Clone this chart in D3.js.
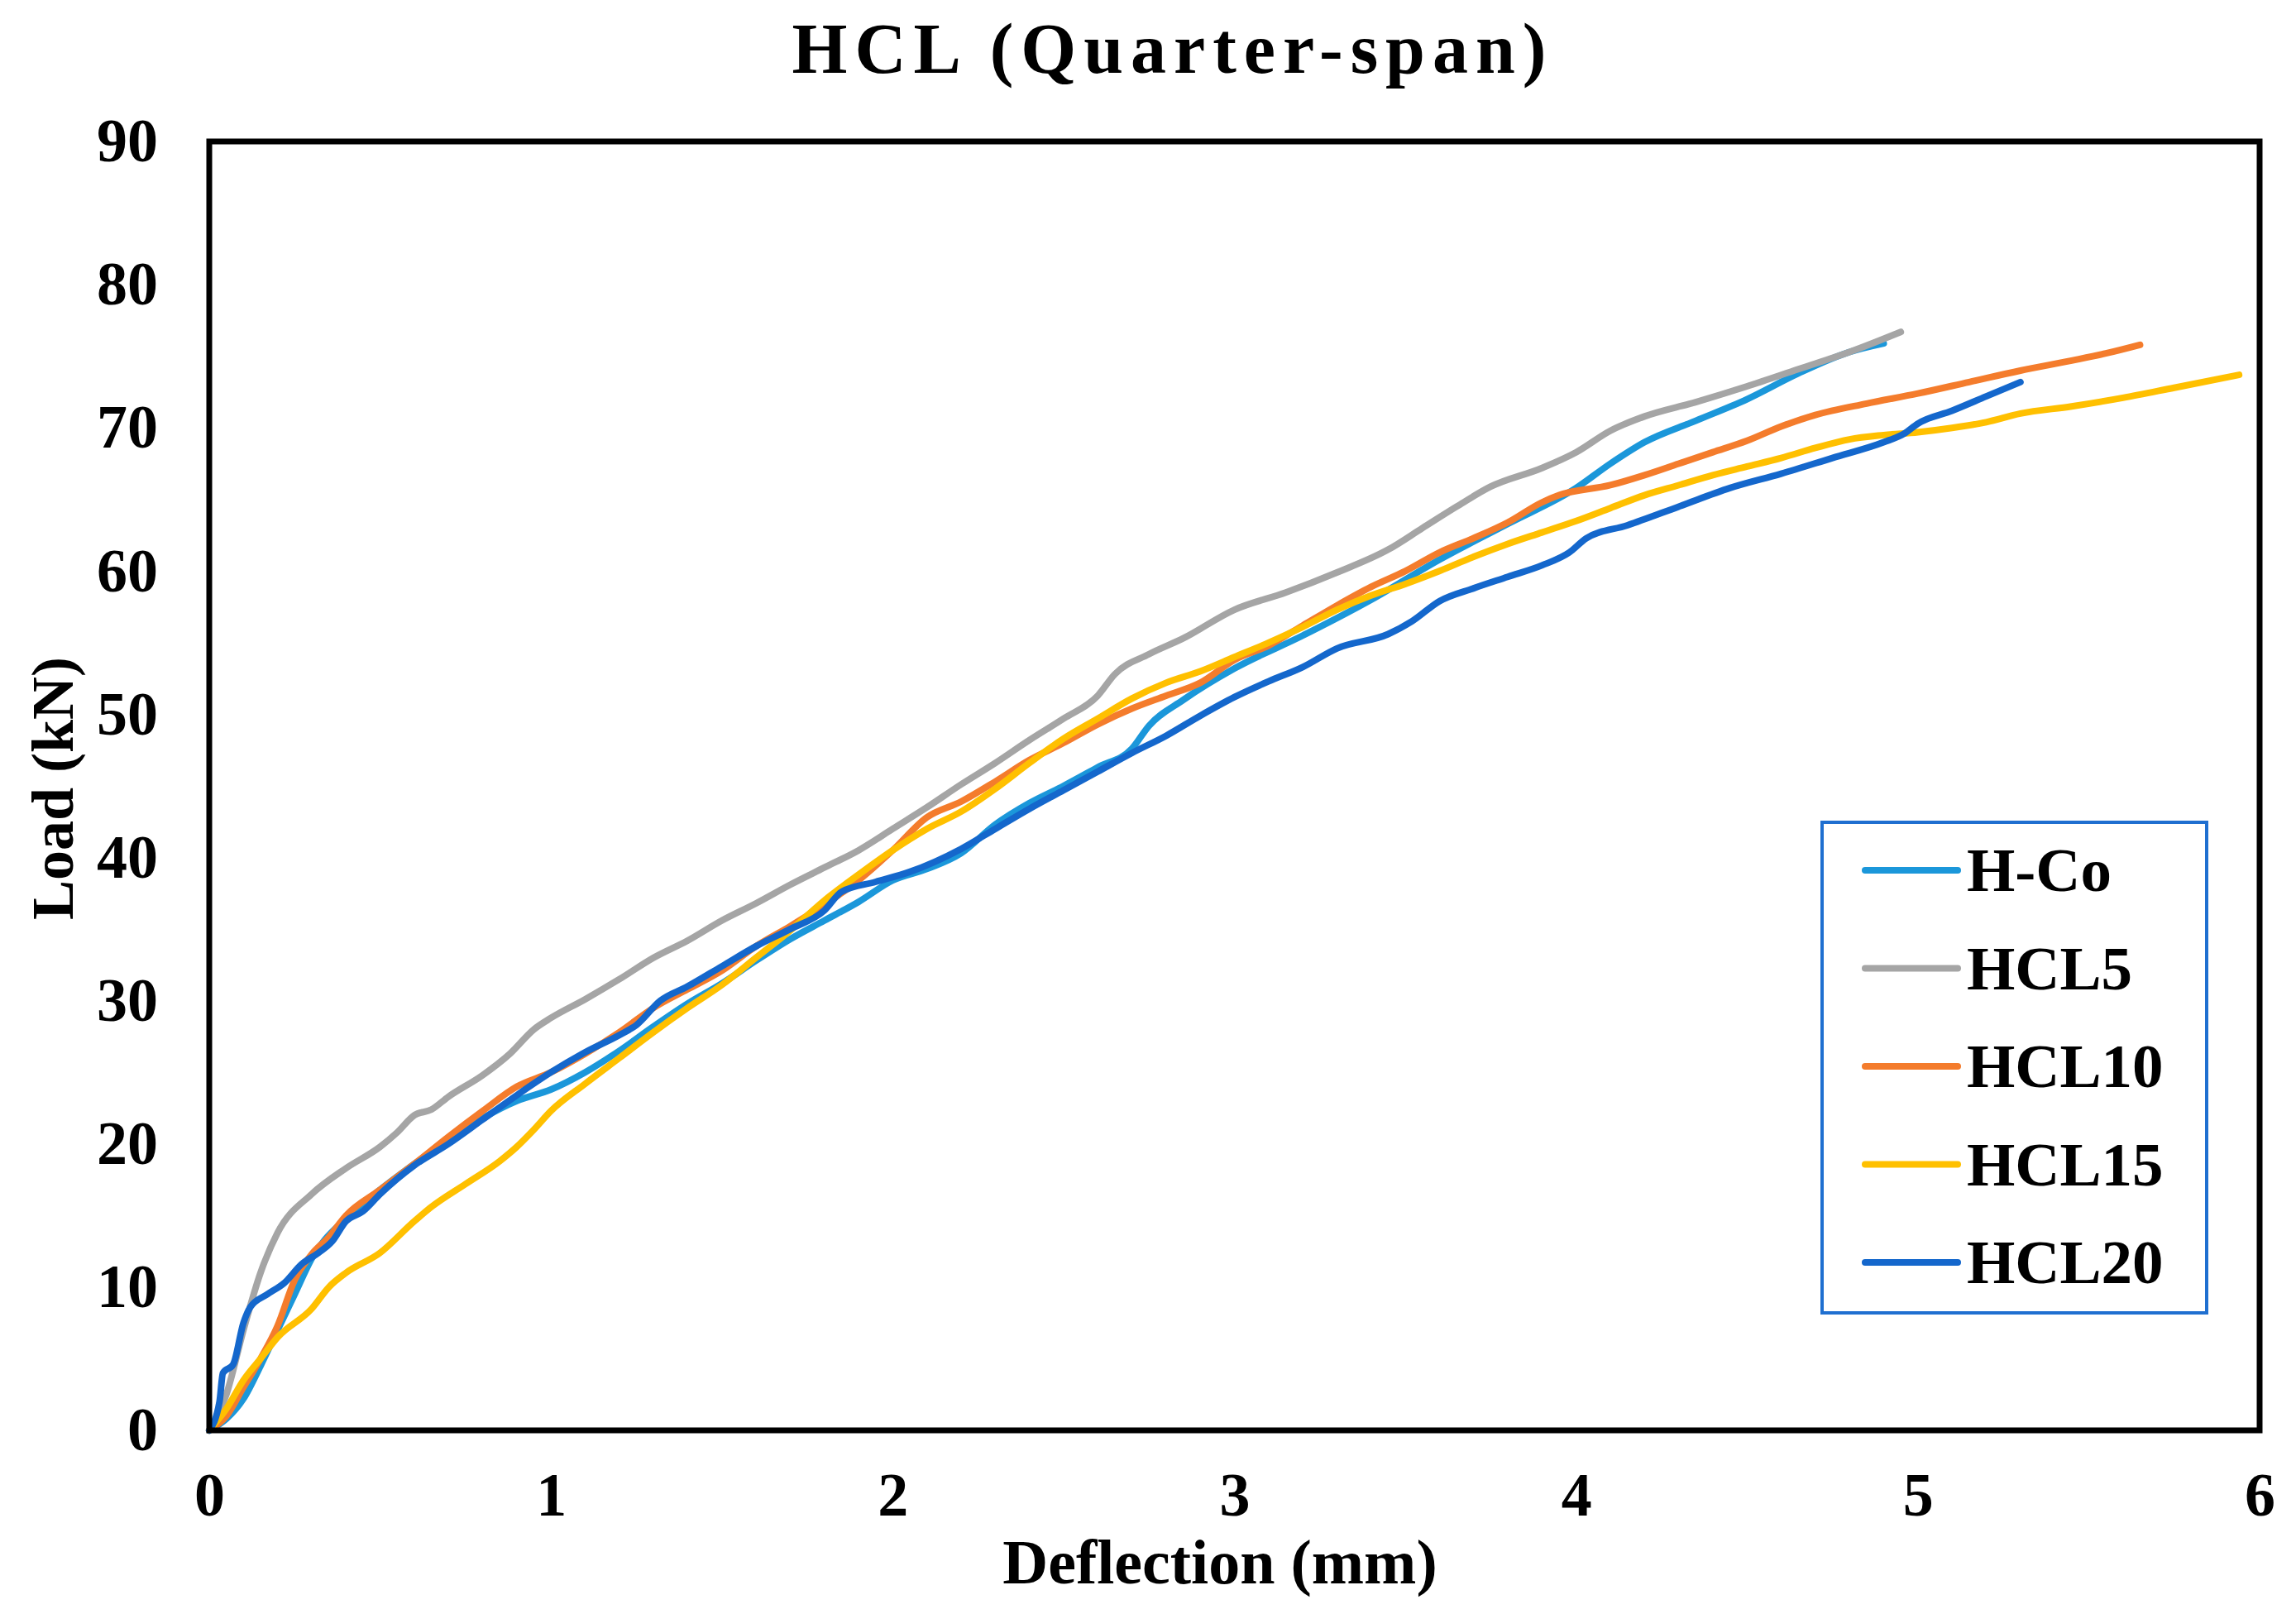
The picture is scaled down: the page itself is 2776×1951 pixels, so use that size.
<!DOCTYPE html>
<html>
<head>
<meta charset="utf-8">
<script src="https://cdn.jsdelivr.net/npm/d3@7"></script>
<style>
  body { margin: 0; background: #fff; }
  text { font-family: 'Liberation Serif', 'Times New Roman', serif; font-weight: bold; fill: #000; }
</style>
</head>
<body>
<div id="chart"></div>
<script>
const seriesNames = ['H-Co', 'HCL5', 'HCL10', 'HCL15', 'HCL20'];
const seriesColors = ['#1b97da', '#a5a5a5', '#f47c2c', '#ffc000', '#1467cc'];

const xTicks = [0, 1, 2, 3, 4, 5, 6];
const yTicks = [0, 10, 20, 30, 40, 50, 60, 70, 80, 90];

// [deflection mm, load kN]
const hCo = [
    [0, 0], [0.05, 0.8], [0.1, 2.2], [0.15, 4.5], [0.2, 7], [0.25, 9.5], [0.3, 12], [0.4, 14.8],
    [0.5, 16.8], [0.6, 18.6], [0.7, 20.3], [0.8, 21.8], [0.9, 23], [1.0, 23.8], [1.1, 25],
    [1.2, 26.5], [1.3, 28.2], [1.4, 29.8], [1.5, 31.2], [1.6, 32.8], [1.7, 34.3], [1.8, 35.6],
    [1.9, 36.9], [2.0, 38.4], [2.1, 39.2], [2.2, 40.3], [2.3, 42.3], [2.4, 43.8], [2.5, 45],
    [2.6, 46.3], [2.7, 47.6], [2.75, 49.2], [2.85, 51], [3.0, 53.2], [3.2, 55.5], [3.4, 58],
    [3.6, 60.8], [3.8, 63.3], [4.0, 65.8], [4.1, 67.5], [4.2, 69], [4.35, 70.5], [4.5, 72],
    [4.65, 73.8], [4.8, 75.3], [4.9, 75.9]
];
const hcl5 = [
    [0, 0], [0.05, 2.5], [0.1, 7], [0.15, 11], [0.2, 13.8], [0.3, 16.5], [0.4, 18.3], [0.5, 19.8],
    [0.55, 20.8], [0.6, 22], [0.65, 22.4], [0.7, 23.3], [0.8, 24.8], [0.88, 26.3], [0.95, 28],
    [1.0, 28.8], [1.1, 30.1], [1.2, 31.5], [1.3, 33], [1.4, 34.2], [1.5, 35.6], [1.6, 36.8],
    [1.7, 38.1], [1.8, 39.3], [1.9, 40.5], [2.0, 42], [2.1, 43.5], [2.2, 45.1], [2.3, 46.6],
    [2.4, 48.2], [2.5, 49.7], [2.6, 51.3], [2.65, 52.8], [2.75, 54.2], [2.85, 55.3], [3.0, 57.3],
    [3.15, 58.5], [3.3, 59.9], [3.45, 61.5], [3.55, 63], [3.65, 64.5], [3.75, 65.9], [3.9, 67.2],
    [4.0, 68.3], [4.1, 69.8], [4.2, 70.8], [4.35, 71.8], [4.5, 72.9], [4.65, 74.1], [4.8, 75.3],
    [4.95, 76.7]
];
const hcl10 = [
    [0, 0], [0.05, 1], [0.1, 3], [0.15, 5], [0.2, 7.3], [0.25, 10.5], [0.3, 12.3], [0.35, 13.5],
    [0.4, 15], [0.5, 16.8], [0.6, 18.6], [0.7, 20.5], [0.8, 22.3], [0.9, 24], [1.0, 25],
    [1.1, 26.3], [1.2, 27.8], [1.3, 29.5], [1.4, 30.8], [1.5, 32.1], [1.6, 33.8], [1.7, 35.2],
    [1.8, 36.7], [1.9, 38.4], [2.0, 40.5], [2.1, 42.8], [2.2, 43.9], [2.3, 45.3], [2.4, 46.8],
    [2.5, 48], [2.6, 49.3], [2.7, 50.4], [2.8, 51.3], [2.9, 52.2], [3.0, 53.8], [3.1, 54.8],
    [3.2, 56.2], [3.3, 57.6], [3.4, 58.9], [3.5, 60], [3.6, 61.3], [3.7, 62.3], [3.8, 63.4],
    [3.9, 64.8], [3.95, 65.3], [4.1, 66], [4.2, 66.7], [4.3, 67.5], [4.4, 68.3], [4.5, 69.1],
    [4.6, 70.1], [4.7, 70.9], [4.85, 71.7], [5.0, 72.4], [5.15, 73.2], [5.3, 74], [5.45, 74.7],
    [5.55, 75.2], [5.65, 75.8]
];
const hcl15 = [
    [0, 0], [0.05, 1.5], [0.1, 3.5], [0.15, 5], [0.2, 6.5], [0.3, 8.5], [0.35, 10], [0.4, 11],
    [0.5, 12.4], [0.6, 14.6], [0.65, 15.6], [0.75, 17.2], [0.85, 18.8], [0.9, 19.8], [0.95, 21],
    [1.0, 22.3], [1.1, 24.2], [1.2, 26], [1.3, 27.8], [1.4, 29.5], [1.5, 31.1], [1.6, 33],
    [1.7, 34.9], [1.8, 37], [1.9, 38.8], [2.0, 40.5], [2.1, 42], [2.2, 43.2], [2.3, 44.8],
    [2.4, 46.6], [2.5, 48.3], [2.6, 49.7], [2.7, 51.1], [2.8, 52.2], [2.9, 53], [3.0, 54],
    [3.1, 55], [3.2, 56.1], [3.3, 57.3], [3.4, 58.3], [3.5, 59.1], [3.6, 60], [3.7, 61],
    [3.8, 61.9], [3.9, 62.7], [4.0, 63.5], [4.1, 64.4], [4.2, 65.3], [4.3, 66], [4.4, 66.7],
    [4.5, 67.3], [4.6, 67.9], [4.7, 68.6], [4.8, 69.2], [4.9, 69.5], [5.0, 69.7], [5.1, 70],
    [5.2, 70.4], [5.3, 71], [5.45, 71.5], [5.6, 72.1], [5.75, 72.8], [5.94, 73.7]
];
const hcl20 = [
    [0, 0], [0.03, 2], [0.04, 4], [0.07, 4.6], [0.1, 7.5], [0.12, 8.6], [0.17, 9.5], [0.22, 10.3],
    [0.27, 11.6], [0.32, 12.4], [0.36, 13.2], [0.4, 14.6], [0.45, 15.3], [0.5, 16.5], [0.6, 18.5],
    [0.7, 20], [0.8, 21.7], [0.9, 23.4], [1.0, 25], [1.1, 26.4], [1.2, 27.6], [1.25, 28.3],
    [1.32, 30], [1.4, 31], [1.5, 32.4], [1.6, 33.8], [1.7, 35], [1.8, 36.3], [1.85, 37.6],
    [1.95, 38.3], [2.05, 39], [2.2, 40.6], [2.3, 42], [2.4, 43.4], [2.5, 44.7], [2.6, 46],
    [2.7, 47.3], [2.8, 48.5], [2.9, 49.9], [3.0, 51.2], [3.1, 52.3], [3.2, 53.3], [3.3, 54.6],
    [3.45, 55.6], [3.52, 56.5], [3.6, 57.9], [3.7, 58.8], [3.8, 59.6], [3.9, 60.4], [3.98, 61.3],
    [4.03, 62.3], [4.15, 63.2], [4.3, 64.5], [4.45, 65.8], [4.6, 66.8], [4.75, 67.9], [4.9, 69],
    [4.96, 69.6], [5.0, 70.3], [5.1, 71.2], [5.2, 72.2], [5.3, 73.2]
];
const seriesData = [hCo, hcl5, hcl10, hcl15, hcl20];

const W = 2776, H = 1951;
const plot = { left: 253, right: 2732, top: 171, bottom: 1729 };

const svg = d3.select('#chart').append('svg')
    .attr('width', W)
    .attr('height', H);

const x = d3.scaleLinear().domain([0, 6]).range([plot.left, plot.right]);
const y = d3.scaleLinear().domain([0, 90]).range([plot.bottom, plot.top]);

// title
svg.append('text')
    .attr('x', 1418)
    .attr('y', 88)
    .attr('text-anchor', 'middle')
    .style('font-size', '86px')
    .style('letter-spacing', '9px')
    .text('HCL (Quarter-span)');

// axes (labels only)
const xAxis = svg.append('g')
    .attr('transform', `translate(0,${plot.bottom})`)
    .call(d3.axisBottom(x).tickValues(xTicks).tickSize(0).tickPadding(50).tickFormat(d3.format('d')));
xAxis.select('.domain').remove();
xAxis.selectAll('text').style('font-size', '74px').style('font-family', null);

const yAxis = svg.append('g')
    .attr('transform', `translate(${plot.left},0)`)
    .call(d3.axisLeft(y).tickValues(yTicks).tickSize(0).tickPadding(62).tickFormat(d3.format('d')));
yAxis.select('.domain').remove();
yAxis.selectAll('text').style('font-size', '74px').style('font-family', null);

svg.append('text')
    .attr('x', 1475)
    .attr('y', 1914)
    .attr('text-anchor', 'middle')
    .style('font-size', '76px')
    .text('Deflection (mm)');

svg.append('text')
    .attr('transform', 'translate(88,953) rotate(-90)')
    .attr('text-anchor', 'middle')
    .style('font-size', '72px')
    .text('Load (kN)');

// curves
const line = d3.line()
    .x(d => x(d[0]))
    .y(d => y(d[1]))
    .curve(d3.curveMonotoneX);

svg.selectAll('.curve')
    .data(seriesData)
    .enter().append('path')
    .attr('class', 'curve')
    .attr('d', line)
    .style('fill', 'none')
    .style('stroke', (d, i) => seriesColors[i])
    .style('stroke-width', 8)
    .style('stroke-linejoin', 'round')
    .style('stroke-linecap', 'round');

// plot frame
svg.append('rect')
    .attr('x', plot.left)
    .attr('y', plot.top)
    .attr('width', plot.right - plot.left)
    .attr('height', plot.bottom - plot.top)
    .style('fill', 'none')
    .style('stroke', '#000')
    .style('stroke-width', 7);

// legend
const legend = svg.append('g').attr('transform', 'translate(2203,994)');
legend.append('rect')
    .attr('width', 465)
    .attr('height', 593)
    .style('fill', '#fff')
    .style('stroke', '#1f6fd0')
    .style('stroke-width', 4);

const items = legend.selectAll('.item')
    .data(seriesNames)
    .enter().append('g')
    .attr('class', 'item')
    .attr('transform', (d, i) => `translate(0,${58 + i * 118.5})`);

items.append('line')
    .attr('x1', 52)
    .attr('x2', 164)
    .style('stroke', (d, i) => seriesColors[i])
    .style('stroke-width', 8)
    .style('stroke-linecap', 'round');

items.append('text')
    .attr('x', 175)
    .attr('y', 25)
    .style('font-size', '75px')
    .text(d => d);
</script>
</body>
</html>
